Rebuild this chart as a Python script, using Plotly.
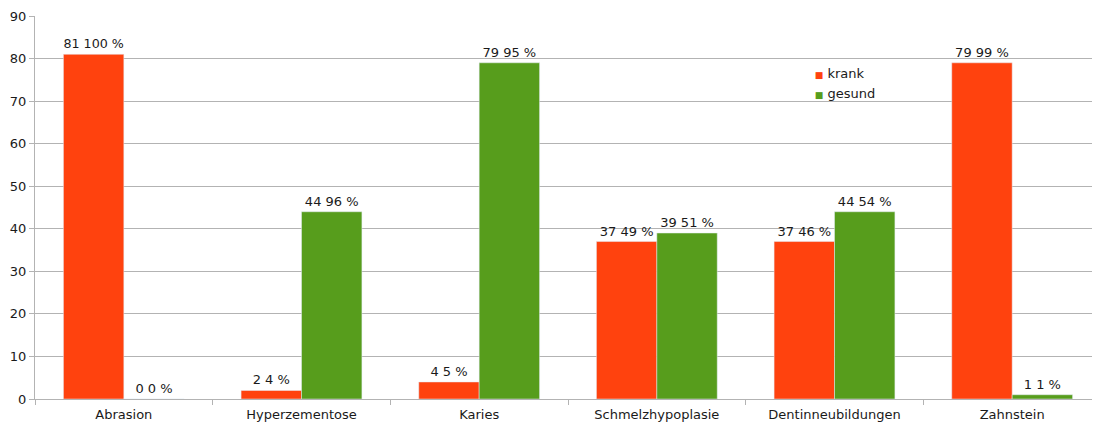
import plotly.graph_objects as go

categories = ["Abrasion", "Hyperzementose", "Karies", "Schmelzhypoplasie", "Dentinneubildungen", "Zahnstein"]
krank = [81, 2, 4, 37, 37, 79]
krank_pct = [100, 4, 5, 49, 46, 99]
gesund = [0, 44, 79, 39, 44, 1]
gesund_pct = [0, 96, 95, 51, 54, 1]

RED = "#ff420e"
GREEN = "#579d1c"
GRID = "#b3b3b3"
FONT = "DejaVu Sans"

fig = go.Figure()
fig.add_trace(go.Bar(
    x=categories, y=krank, name="krank", marker_color=RED, showlegend=False,
    text=[f"{v} {p} %" for v, p in zip(krank, krank_pct)],
    textposition="outside", cliponaxis=False,
    textfont=dict(family=FONT, size=13, color="#1a1a1a"),
))
fig.add_trace(go.Bar(
    x=categories, y=gesund, name="gesund", marker_color=GREEN, showlegend=False,
    text=[f"{v} {p} %" for v, p in zip(gesund, gesund_pct)],
    textposition="outside", cliponaxis=False,
    textfont=dict(family=FONT, size=13, color="#1a1a1a"),
))
# legend entries: coloured square glyph placed right before the name
for name, col in [("krank", RED), ("gesund", GREEN)]:
    fig.add_trace(go.Scatter(
        x=[None], y=[None], mode="markers",
        name=f"<span style='color:{col};font-size:9px'>■</span> {name}",
        marker=dict(symbol="square", size=1, color="rgba(0,0,0,0)")))

# the page body has an 8px margin, so the figure is offset by it
fig.update_layout(
    width=1094, height=417,
    margin=dict(l=27, r=1, t=8, b=26),
    paper_bgcolor="white", plot_bgcolor="white",
    barmode="group", bargap=0.32, bargroupgap=0,
    font=dict(family=FONT, size=13, color="#1a1a1a"),
    showlegend=True,
    legend=dict(x=0.694, y=0.89, xanchor="left", yanchor="top",
                bgcolor="rgba(0,0,0,0)", font=dict(family=FONT, size=13),
                itemwidth=30, tracegroupgap=0),
    xaxis=dict(showline=True, linecolor=GRID, linewidth=1, ticks="outside",
               tickson="boundaries", ticklen=5, tickcolor=GRID,
               ticklabelstandoff=3,
               tickfont=dict(family=FONT, size=13), showgrid=False),
    yaxis=dict(range=[0, 90], dtick=10, showline=True, linecolor=GRID, linewidth=1,
               ticks="outside", ticklen=5, tickcolor=GRID, gridcolor=GRID,
               tickfont=dict(family=FONT, size=13), zeroline=False),
)

fig.write_html("out.html")
